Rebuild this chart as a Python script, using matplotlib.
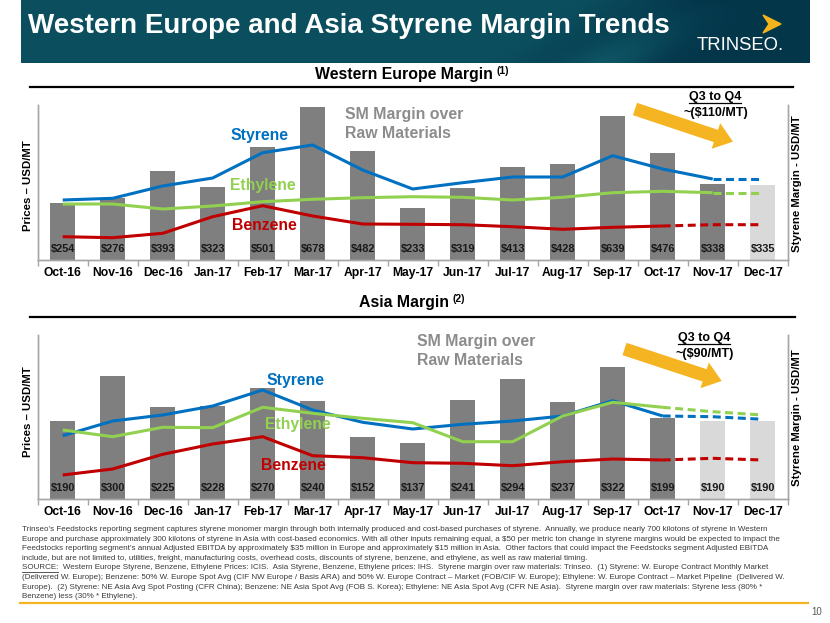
import numpy as np
import matplotlib
matplotlib.use('Agg')
import matplotlib.pyplot as plt
from matplotlib.patches import FancyArrow, Polygon

plt.rcParams['font.family'] = ['Liberation Sans', 'DejaVu Sans']

# ---------------- data ----------------
months = ['Oct-16', 'Nov-16', 'Dec-16', 'Jan-17', 'Feb-17', 'Mar-17', 'Apr-17', 'May-17',
          'Jun-17', 'Jul-17', 'Aug-17', 'Sep-17', 'Oct-17', 'Nov-17', 'Dec-17']

# Western Europe
we_margin = [254, 276, 393, 323, 501, 678, 482, 233, 319, 413, 428, 639, 476, 338, 335]
we_styrene = [900, 917, 1040, 1120, 1373, 1450, 1200, 1010, 1073, 1130, 1130, 1343, 1210, 1110, 1110]
we_ethylene = [860, 860, 810, 840, 883, 907, 923, 933, 927, 900, 927, 973, 987, 973, 973]
we_benzene = [533, 523, 567, 733, 843, 740, 660, 657, 653, 633, 607, 627, 640, 653, 653]
we_first_estimate = 14          # bars from this index are estimates
we_split = [13, 13, 12]         # last actual point for styrene, ethylene, benzene

# Asia
asia_margin = [190, 300, 225, 228, 270, 240, 152, 137, 241, 294, 237, 322, 199, 190, 190]
asia_styrene = [936, 1083, 1143, 1233, 1393, 1193, 1070, 1003, 1050, 1083, 1133, 1286, 1133, 1126, 1100]
asia_ethylene = [993, 926, 1020, 1016, 1220, 1160, 1110, 1066, 876, 876, 1133, 1270, 1220, 1176, 1143]
asia_benzene = [543, 603, 750, 853, 926, 736, 716, 666, 660, 636, 676, 703, 693, 710, 693]
asia_first_estimate = 13
asia_split = [12, 12, 12]

title = 'Western Europe and Asia Styrene Margin Trends'
we_title, we_note = 'Western Europe Margin', '(1)'
asia_title, asia_note = 'Asia Margin', '(2)'
we_change = '~($110/MT)'
asia_change = '~($90/MT)'

footnote = [
    "Trinseo\u2019s Feedstocks reporting segment captures styrene monomer margin through both internally produced and cost-based purchases of styrene.  Annually, we produce nearly 700 kilotons of styrene in Western",
    "Europe and purchase approximately 300 kilotons of styrene in Asia with cost-based economics. With all other inputs remaining equal, a $50 per metric ton change in styrene margins would be expected to impact the",
    "Feedstocks reporting segment\u2019s annual Adjusted EBITDA by approximately $35 million in Europe and approximately $15 million in Asia.  Other factors that could impact the Feedstocks segment Adjusted EBITDA",
    "include, but are not limited to, utilities, freight, manufacturing costs, overhead costs, discounts of styrene, benzene, and ethylene, as well as raw material timing.",
    "SOURCE:  Western Europe Styrene, Benzene, Ethylene Prices: ICIS.  Asia Styrene, Benzene, Ethylene prices: IHS.  Styrene margin over raw materials: Trinseo.  (1) Styrene: W. Europe Contract Monthly Market",
    "(Delivered W. Europe); Benzene: 50% W. Europe Spot Avg (CIF NW Europe / Basis ARA) and 50% W. Europe Contract \u2013 Market (FOB/CIF W. Europe); Ethylene: W. Europe Contract \u2013 Market Pipeline  (Delivered W.",
    "Europe).  (2) Styrene: NE Asia Avg Spot Posting (CFR China); Benzene: NE Asia Spot Avg (FOB S. Korea); Ethylene: NE Asia Spot Avg (CFR NE Asia).  Styrene margin over raw materials: Styrene less (80% *",
    "Benzene) less (30% * Ethylene).",
]

# ---------------- style ----------------
BLUE, GREEN, RED = '#0070c0', '#92d050', '#c00000'
BAR, BAR_EST = '#7f7f7f', '#d9d9d9'
GRID = '#a6a6a6'
ORANGE = '#f5b522'
W, H = 830, 623

fig = plt.figure(figsize=(8.3, 6.23), dpi=100)


def px_rect(x0, y0, x1, y1):
    return [x0 / W, 1 - y1 / H, (x1 - x0) / W, (y1 - y0) / H]


def panel(rect, margin, first_est, series, splits, bar_top, line_lim):
    axl = fig.add_axes(rect)
    axb = axl.twinx()
    axl.set_zorder(axb.get_zorder() + 1)
    axl.patch.set_visible(False)
    x = np.arange(len(months))
    colors = [BAR if i < first_est else BAR_EST for i in x]
    axb.bar(x, margin, width=0.5, color=colors, zorder=2)
    for xi, v in zip(x, margin):
        axb.text(xi, 0.07, f'${v}', transform=axb.get_xaxis_transform(), ha='center',
                 va='center', fontsize=7.9, fontweight='bold', color='#1a1a1a',
                 parse_math=False, zorder=3)
    axb.set_ylim(0, bar_top)
    for (vals, color), split in zip(series, splits):
        vals = np.asarray(vals, float)
        axl.plot(x[:split + 1], vals[:split + 1], color=color, lw=2.2,
                 solid_capstyle='butt', solid_joinstyle='round')
        axl.plot(x[split:], vals[split:], color=color, lw=2.2, ls=(0, (2.6, 1.5)))
    axl.set_ylim(*line_lim)
    axl.set_xlim(-0.5, len(months) - 0.5)
    axl.set_yticks([])
    axb.set_yticks([])
    axl.set_xticks(x)
    axl.set_xticklabels(months, fontsize=8.7, fontweight='bold')
    axl.tick_params(axis='x', which='major', length=0, pad=5)
    axl.set_xticks(np.arange(-0.5, len(months), 1), minor=True)
    axl.tick_params(axis='x', which='minor', length=4, color=GRID, width=1)
    for a in (axl, axb):
        a.spines['top'].set_visible(False)
        for s in ('left', 'right', 'bottom'):
            a.spines[s].set_color(GRID)
            a.spines[s].set_linewidth(1.0)
    return axl, axb


panel(px_rect(37.7, 105, 787.7, 260), we_margin, we_first_estimate,
      [(we_styrene, BLUE), (we_ethylene, GREEN), (we_benzene, RED)], we_split,
      688, (300, 1850))
panel(px_rect(37.7, 335, 787.7, 499.3), asia_margin, asia_first_estimate,
      [(asia_styrene, BLUE), (asia_ethylene, GREEN), (asia_benzene, RED)], asia_split,
      400, (300, 1943))

# ---------------- overlay (pixel coordinates) ----------------
ov = fig.add_axes([0, 0, 1, 1], zorder=10)
ov.set_xlim(0, W)
ov.set_ylim(H, 0)
ov.axis('off')
ov.patch.set_visible(False)

# banner
bw, bh = 800, 64
xx, yy = np.meshgrid(np.linspace(0, 1, bw), np.linspace(0, 1, bh))
left = np.array([0x0b, 0x4f, 0x5f]) / 255
right = np.array([0x04, 0x36, 0x4a]) / 255
light = np.array([0x12, 0x62, 0x70]) / 255
d = xx * 790 + (yy - 1) * 90  # diagonal coordinate
t = np.clip((d - 470) / 120, 0, 1)
img = left[None, None, :] * (1 - t[..., None]) + right[None, None, :] * t[..., None]
band = np.exp(-((d - 585) / 45) ** 2) * yy
img = img * (1 - 0.7 * band[..., None]) + light[None, None, :] * 0.7 * band[..., None]
ov.imshow(img, extent=(20.7, 809, 63, 0), aspect='auto', interpolation='bilinear', zorder=1)
ov.set_xlim(0, W)
ov.set_ylim(H, 0)

ov.text(28, 26, title, color='white', fontsize=20, fontweight='bold',
        va='center', ha='left', zorder=3)
ov.text(697, 46, 'TRINSEO.', color='white', fontsize=13.3, va='center', ha='left', zorder=3)
ov.add_patch(Polygon([(763, 15), (781, 24), (763, 33), (769, 24)], closed=True,
                     color='#f2b31b', zorder=3))

# section headers
fig.canvas.draw()
renderer = fig.canvas.get_renderer()


def header(cx, cy, main, note):
    t1 = ov.text(cx, cy, main, fontsize=11.4, fontweight='bold', ha='center', va='center')
    bb = t1.get_window_extent(renderer)
    ov.text(bb.x1 + 4, cy - 4, note, fontsize=7.5, fontweight='bold', ha='left', va='center')


header(403.5, 75, we_title, we_note)
header(403.5, 303, asia_title, asia_note)
ov.plot([30, 793], [87, 87], color='black', lw=1.6)
ov.plot([30, 795], [317, 317], color='black', lw=1.6)

# axis titles
for cy in (186, 412):
    ov.text(28, cy, 'Prices \u2013 USD/MT', rotation=90, fontsize=8.2, fontweight='bold',
            ha='center', va='center')
for cy in (184, 418):
    ov.text(797, cy, 'Styrene Margin - USD/MT', rotation=90, fontsize=8.2,
            fontweight='bold', ha='center', va='center')

# series labels
lab = dict(fontsize=11.3, fontweight='bold', ha='center', va='center')
ov.text(259, 135.7, 'Styrene', color=BLUE, **lab)
ov.text(263.3, 185.7, 'Ethylene', color=GREEN, **lab)
ov.text(264.5, 225, 'Benzene', color=RED, **lab)
ov.text(295, 381, 'Styrene', color=BLUE, **lab)
ov.text(297.5, 424.3, 'Ethylene', color=GREEN, **lab)
ov.text(293, 465.7, 'Benzene', color=RED, **lab)

sm = dict(fontsize=11.4, fontweight='bold', ha='left', va='center', color='#8c8c8c')
ov.text(345, 115, 'SM Margin over', **sm)
ov.text(345, 134, 'Raw Materials', **sm)
ov.text(417.3, 341.7, 'SM Margin over', **sm)
ov.text(417.3, 360.7, 'Raw Materials', **sm)

# Q3 to Q4 callouts
q = dict(fontsize=9, fontweight='bold', ha='center', va='center', parse_math=False)
for cx, cy, txt in ((715, 96.7, we_change), (704, 337.7, asia_change)):
    tq = ov.text(cx, cy, 'Q3 to Q4', **q)
    bb = tq.get_window_extent(renderer)
    ov.plot([bb.x0, bb.x1], [cy + 6.5, cy + 6.5], color='black', lw=0.9)
    ov.text(cx + 1, cy + 16, txt, **q)

# arrows
for (x0, y0), (x1, y1) in (((635, 109), (733, 141.7)), ((624.5, 349), (721.7, 381))):
    ov.add_patch(FancyArrow(x0, y0, x1 - x0, y1 - y0, width=13, head_width=27,
                            head_length=18, length_includes_head=True,
                            color=ORANGE, lw=0, zorder=5))

# footnote
fn = dict(fontsize=5.75, color='#3a3a3a', ha='left', va='center', parse_math=False)
for i, line in enumerate(footnote):
    yl = 529.5 + 9.6 * i
    ov.text(22, yl, line, **fn)
    if line.startswith('SOURCE:'):
        ts = ov.text(22, yl, 'SOURCE:', alpha=0, **fn)
        bb = ts.get_window_extent(renderer)
        ov.plot([bb.x0, bb.x1], [yl + 3.6] * 2, color='#3a3a3a', lw=0.6)

ov.plot([20, 808], [603.3, 603.3], color=ORANGE, lw=1.6)
ov.text(817, 612, '10', fontsize=7, color='#595959', ha='center', va='center')

fig.savefig('out.png', dpi=100)
